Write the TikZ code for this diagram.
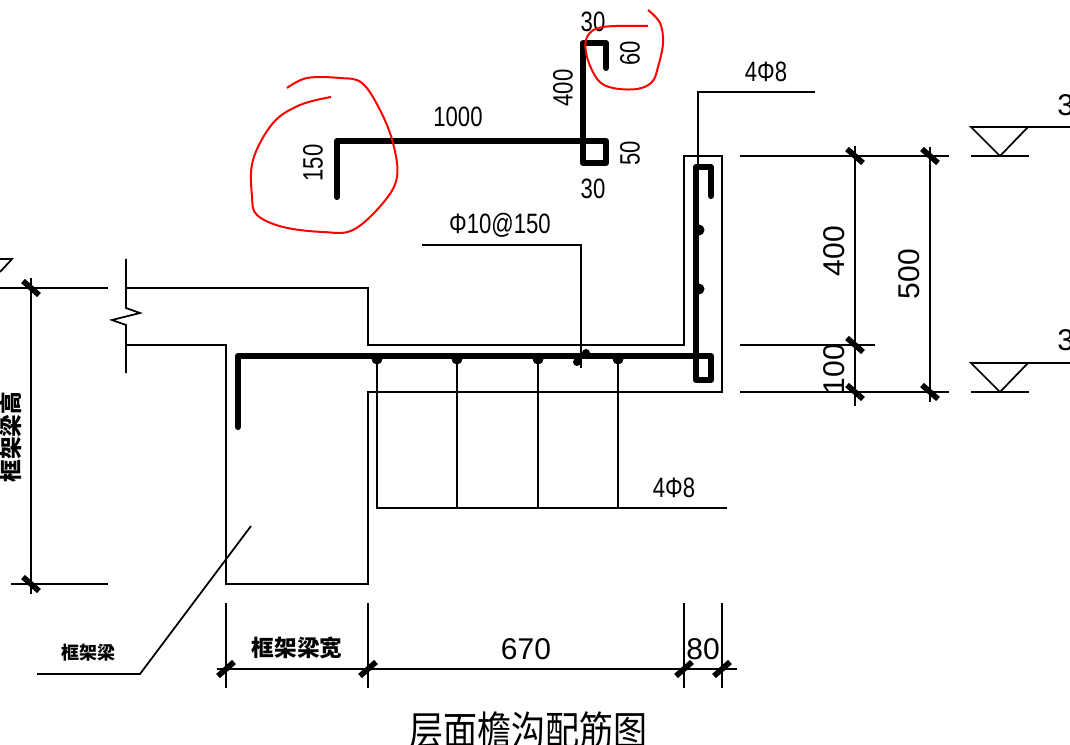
\documentclass[tikz,border=0pt]{standalone}
\usepackage{fontspec}
\usepackage{xcolor}
\newfontfamily\narrowfont[FakeStretch=0.79]{Liberation Sans}
\newfontfamily\widefont{Liberation Sans}
\newfontfamily\cjkfont{Noto Sans CJK SC}
\newfontfamily\titlefont[FakeStretch=0.85]{Noto Sans CJK SC}
\tikzset{
    line/.style={line width=1.3pt},
    rebar/.style={line width=4.6pt, line join=round, line cap=round},
    tick/.style={line width=4.2pt},
    bar/.style={fill=black, draw=none},
    handmark/.style={red, line width=1.5pt},
    small/.style={inner sep=0pt, font=\narrowfont\fontsize{21}{21}\selectfont},
    large/.style={inner sep=0pt, font=\widefont\fontsize{22.5}{22.5}\selectfont},
    beamlabel/.style={inner sep=0pt, font=\cjkfont\bfseries\fontsize{13.5}{14}\selectfont}
}

\begin{document}
\begin{tikzpicture}[x=0.75pt, y=-0.75pt]
    \useasboundingbox (0,0) rectangle (1070,745);
    \clip (0,0) rectangle (1070,745);

    % Concrete outline
    \draw[line] (126,288) -- (368,288) -- (368,345) -- (684,345) -- (684,156) -- (722,156)
        -- (722,392) -- (368,392) -- (368,584) -- (226,584) -- (226,345) -- (126,345);

    % Break line
    \draw[line] (126,259) -- (126,308) -- (140,313) -- (112,320) -- (126,325) -- (126,373);

    % Bent bar above
    \draw[rebar] (337,197) -- (337,141) -- (606,141) -- (606,163) -- (583,163) -- (583,43) -- (606,43) -- (606,68);
    \node[small, rotate=90] (barhook) at (313,163) {150};
    \node[small] (barlength) at (458,117) {1000};
    \node[small] (toptop) at (593,22) {30};
    \node[small, rotate=90] (topdown) at (630,53) {60};
    \node[small, rotate=90] (barup) at (563,88) {400};
    \node[small, rotate=90] (boxheight) at (630,153) {50};
    \node[small] (boxwidth) at (593,189) {30};

    % Bar in place
    \draw[rebar] (238,427) -- (238,356) -- (711,356) -- (711,380) -- (696,380) -- (696,167) -- (711,167) -- (711,196);

    % Distribution bars
    \draw[line] (377,358) -- (377,508) -- (727,508);
    \draw[line] (457,358) -- (457,508);
    \draw[line] (538,358) -- (538,508);
    \draw[line] (618,358) -- (618,508);
    \foreach \x in {377,457,538,618}
        \fill[bar] (\x,359) circle (5.5);
    \fill[bar] (699,230) circle (5.5);
    \fill[bar] (699,289) circle (5.5);
    \node[small] (lowerbars) at (674,488) {4Φ8};

    % Leaders
    \draw[line] (698,170) -- (698,92) -- (815,92);
    \node[small] (upperbars) at (766,72) {4Φ8};
    \draw[line] (422,245) -- (581,245) -- (581,368);
    \fill[bar] (577,362) circle (4);
    \fill[bar] (586,353) circle (4);
    \node[small] (mainbar) at (500,225) {Φ10@150};
    \draw[line] (37,674) -- (140,674) -- (251,526);
    \node[beamlabel] (beamname) at (88,653) {框架梁};

    % Left dimension
    \draw[line] (0,288) -- (108,288);
    \draw[line] (11,584) -- (108,584);
    \draw[line] (31,278) -- (31,594);
    \foreach \y in {288,584}
        \draw[tick] (23,\y-7) -- (39,\y+7);
    \node[beamlabel, rotate=90, font=\cjkfont\bfseries\fontsize{17}{17}\selectfont] (beamheight) at (11,437) {框架梁高};
    \draw[line] (0,259) -- (12,259) -- (0,272);

    % Bottom dimension
    \draw[line] (217,669) -- (737,669);
    \foreach \x in {226,368,684,722} {
        \draw[line] (\x,603) -- (\x,688);
        \draw[tick] (\x-8,676) -- (\x+8,662);
    }
    \node[beamlabel, font=\cjkfont\bfseries\fontsize{17}{17}\selectfont] (beamwidth) at (297,648) {框架梁宽};
    \node[large] (gutterwidth) at (526,649) {670};
    \node[large] (wallwidth) at (703,649) {80};

    % Right dimensions
    \draw[line] (740,156) -- (949,156);
    \draw[line] (740,345) -- (875,345);
    \draw[line] (740,392) -- (949,392);
    \draw[line] (855,146) -- (855,406);
    \draw[line] (930,147) -- (930,402);
    \foreach \x/\y in {855/156,930/156,855/345,855/392,930/392}
        \draw[tick] (\x-8,\y-7) -- (\x+8,\y+7);
    \node[large, rotate=90] (wallheight) at (834,251) {400};
    \node[large, rotate=90] (totalheight) at (909,274) {500};
    \node[large, rotate=90] (slabheight) at (834,369) {100};

    % Level marks
    \draw[line] (1070,127) -- (971,127) -- (1000,156);
    \draw[line] (1000,156) -- (1028,127);
    \draw[line] (971,156) -- (1029,156);
    \draw[line] (1070,363) -- (971,363) -- (1000,392);
    \draw[line] (1000,392) -- (1028,363);
    \draw[line] (971,392) -- (1029,392);
    \node[large, anchor=west] (uppermark) at (1057,105) {3};
    \node[large, anchor=west] (lowermark) at (1057,340) {3};

    % Title
    \node[inner sep=0pt, font=\titlefont\fontsize{30}{30}\selectfont, anchor=north] (title) at (528,711) {层面檐沟配筋图};

    % Hand marks
    \draw[handmark] plot[smooth, tension=0.6] coordinates {(287,88) (307,78) (340,78) (362,83) (380,110) (393,143) (397,177) (383,203) (353,230) (323,232) (283,227) (257,215) (252,197) (253,160) (273,123) (300,105) (331,97)};
    \draw[handmark] plot[smooth, tension=0.6] coordinates {(648,10) (660,23) (663,43) (658,67) (652,82) (637,89) (613,88) (598,80) (587,57) (587,37) (603,27) (648,26)};
\end{tikzpicture}
\end{document}
